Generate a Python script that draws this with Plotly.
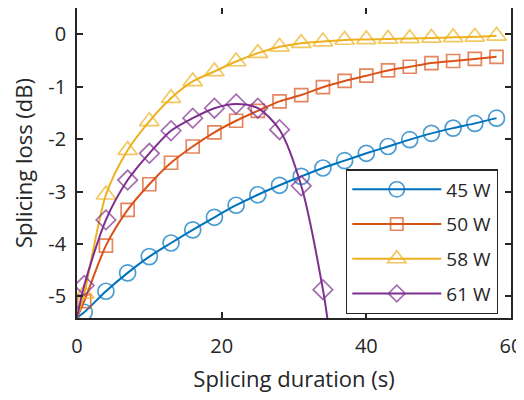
import plotly.graph_objects as go

# Data
dur = [1, 4, 7, 10, 13, 16, 19, 22, 25, 28, 31, 34, 37, 40, 43, 46, 49, 52, 55, 58]
loss_45W = [-5.30, -4.90, -4.55, -4.24, -3.98, -3.73, -3.49, -3.26, -3.06, -2.88,
            -2.71, -2.55, -2.41, -2.27, -2.14, -2.01, -1.89, -1.79, -1.70, -1.60]
loss_50W = [-5.09, -4.03, -3.35, -2.86, -2.45, -2.14, -1.87, -1.65, -1.46, -1.28,
            -1.16, -1.01, -0.89, -0.79, -0.69, -0.62, -0.55, -0.51, -0.47, -0.43]
loss_58W = [-4.95, -3.06, -2.21, -1.66, -1.22, -0.90, -0.71, -0.52, -0.36, -0.24,
            -0.17, -0.14, -0.11, -0.10, -0.09, -0.08, -0.07, -0.06, -0.05, -0.03]
dur_61W = [1, 4, 7, 10, 13, 16, 19, 22, 25, 28, 31, 34]
loss_61W = [-4.79, -3.54, -2.78, -2.27, -1.84, -1.60, -1.41, -1.33, -1.41, -1.82, -2.89, -4.87]

# fit curves start at the origin of the splice (t = 0)
start_x = 0
start_y = -5.4
# 61 W curve continues below the axis
end_61W_x = 35
end_61W_y = -5.8

names = ["45 W", "50 W", "58 W", "61 W"]
colors = ["#0072BD", "#D95319", "#EDB120", "#7E2F8E"]
symbols = ["circle-open", "square-open", "triangle-up-open", "diamond-open"]
msizes = [16, 13, 17, 15]

x_ticks = [0, 20, 40, 60]
y_ticks = [0, -1, -2, -3, -4, -5]
y_ticklabels = ["0", "-1", "-2", "-3", "-4", "-5"]

FONT = "Open Sans"
TXT = "#262626"

series = [
    (dur, loss_45W, False),
    (dur, loss_50W, False),
    (dur, loss_58W, False),
    (dur_61W, loss_61W, True),
]

fig = go.Figure()
for i, (xs, ys, ext) in enumerate(series):
    lx = [start_x] + list(xs)
    ly = [start_y] + list(ys)
    sz = [0] + [msizes[i]] * len(xs)
    if ext:
        lx.append(end_61W_x)
        ly.append(end_61W_y)
        sz.append(0)
    fig.add_trace(go.Scatter(
        x=lx, y=ly, mode="lines+markers", name=names[i],
        legendgroup=names[i],
        line=dict(color=colors[i], width=2, shape="spline", smoothing=0.8),
        marker=dict(symbol=symbols[i], size=sz, color=colors[i],
                    line=dict(width=1.7, color=colors[i])),
        cliponaxis=True,
    ))

axis_common = dict(
    showline=True, linecolor=TXT, linewidth=1.6, mirror="ticks",
    ticks="inside", ticklen=6, tickwidth=1.6, tickcolor=TXT,
    showgrid=False, zeroline=False, automargin=False,
    ticklabeloverflow="allow",
    tickfont=dict(family=FONT, size=20, color=TXT),
)

# the page body adds an 8 px offset, so the figure is 8 px smaller
fig.update_layout(
    template="none",
    width=516, height=392,
    margin=dict(l=69, r=13, t=0, b=82),
    paper_bgcolor="white", plot_bgcolor="white",
    font=dict(family=FONT, size=20, color=TXT),
    xaxis=dict(range=[0, 60], tickvals=x_ticks, ticklabelstandoff=9,
               title=dict(text="Splicing duration (s)", standoff=14,
                          font=dict(family=FONT, size=22, color=TXT)),
               **axis_common),
    yaxis=dict(range=[-5.41, 0.5], tickvals=y_ticks, ticktext=y_ticklabels,
               ticklabelstandoff=5,
               title=dict(text="Splicing loss (dB)", standoff=10,
                          font=dict(family=FONT, size=22, color=TXT)),
               **axis_common),
    legend=dict(x=0.970, y=0.48, xanchor="right", yanchor="top",
                bgcolor="white", bordercolor=TXT, borderwidth=1.3,
                font=dict(family=FONT, size=19, color=TXT),
                tracegroupgap=7, itemwidth=89),
    showlegend=True,
)

fig.write_html("out.html")
